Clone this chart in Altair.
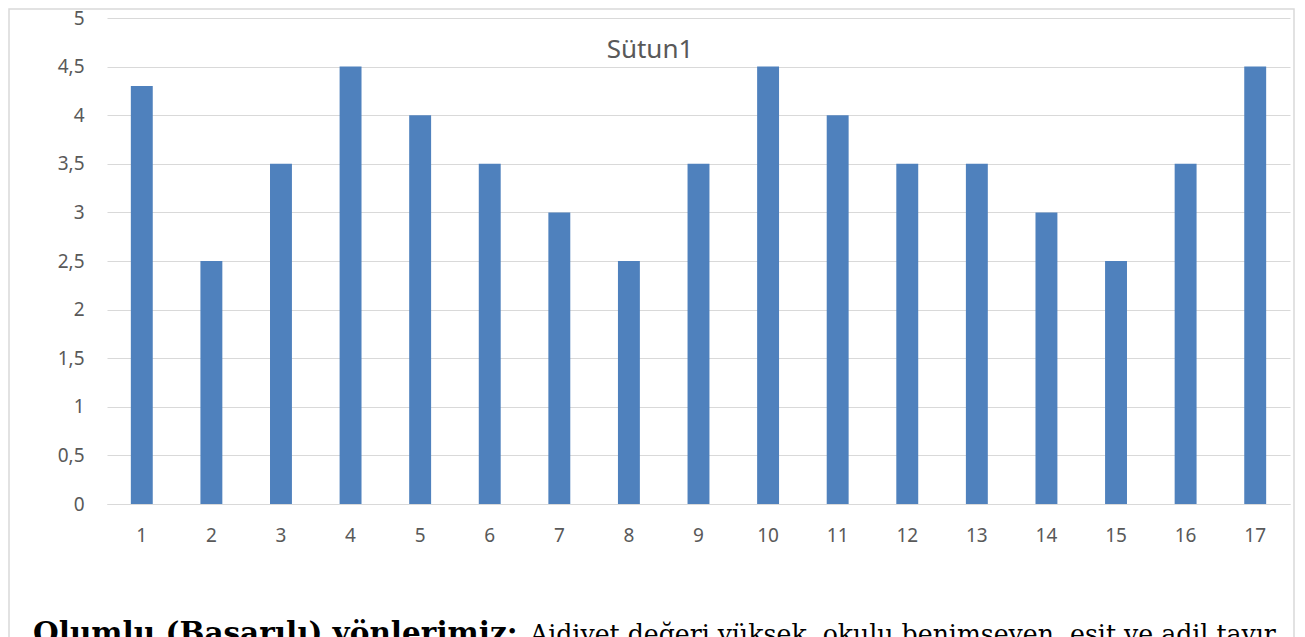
import altair as alt
import pandas as pd

categories = [str(i) for i in range(1, 18)]
values = [4.3, 2.5, 3.5, 4.5, 4, 3.5, 3, 2.5, 3.5, 4.5, 4, 3.5, 3.5, 3, 2.5, 3.5, 4.5]
y_ticks = [0, 0.5, 1, 1.5, 2, 2.5, 3, 3.5, 4, 4.5, 5]
title_text = "Sütun1"
caption_bold = "Olumlu (Başarılı) yönlerimiz:"
caption_rest = "Aidiyet değeri yüksek, okulu benimseyen, eşit ve adil tavır"

df = pd.DataFrame({"cat": categories, "val": values})

W, H = 1183, 486
GRID = "#d9d9d9"
LABEL = "#595959"

bars = alt.Chart(df).mark_bar(color="#4f81bd").encode(
    x=alt.X("cat:N", sort=categories, title=None,
            scale=alt.Scale(paddingInner=0.685, paddingOuter=0.3425),
            axis=alt.Axis(labelAngle=0, ticks=False, domain=True, domainColor=GRID,
                          labelColor=LABEL, labelFontSize=19, labelFont="Noto Sans",
                          labelPadding=22, grid=False)),
    y=alt.Y("val:Q", title=None,
            scale=alt.Scale(domain=[0, 5], nice=False),
            axis=alt.Axis(values=y_ticks, ticks=False, domain=False, gridColor=GRID,
                          labelColor=LABEL, labelFontSize=19, labelFont="Noto Sans",
                          labelPadding=23,
                          labelExpr="replace(format(datum.value, '~g'), '.', ',')")),
)

border = alt.Chart(pd.DataFrame({"a": [0]})).mark_rect(
    fill="transparent", stroke=GRID, strokeWidth=1.5
).encode(x=alt.value(-98), x2=alt.value(1187), y=alt.value(-9), y2=alt.value(700))

title = alt.Chart(pd.DataFrame({"t": [title_text]})).mark_text(
    font="Noto Sans", fontSize=26, color=LABEL, baseline="middle", align="center"
).encode(text="t:N", x=alt.value(543), y=alt.value(32))

cap1 = alt.Chart(pd.DataFrame({"t": [caption_bold]})).mark_text(
    font="DejaVu Serif", fontSize=29.5, fontWeight="bold", color="#000000",
    baseline="alphabetic", align="left"
).encode(text="t:N", x=alt.value(-74), y=alt.value(625))

cap2 = alt.Chart(pd.DataFrame({"t": [caption_rest]})).mark_text(
    font="DejaVu Serif", fontSize=25.2, color="#000000",
    baseline="alphabetic", align="left"
).encode(text="t:N", x=alt.value(423), y=alt.value(625))

chart = alt.layer(border, bars, title, cap1, cap2).properties(
    width=W, height=H,
    padding={"left": 99, "top": 10, "right": 7, "bottom": 133},
    autosize=alt.AutoSizeParams(type="none"),
).configure_view(stroke=None).configure_axis(gridWidth=1)

chart.save("out.html", embed_options={"renderer": "svg", "actions": False})
